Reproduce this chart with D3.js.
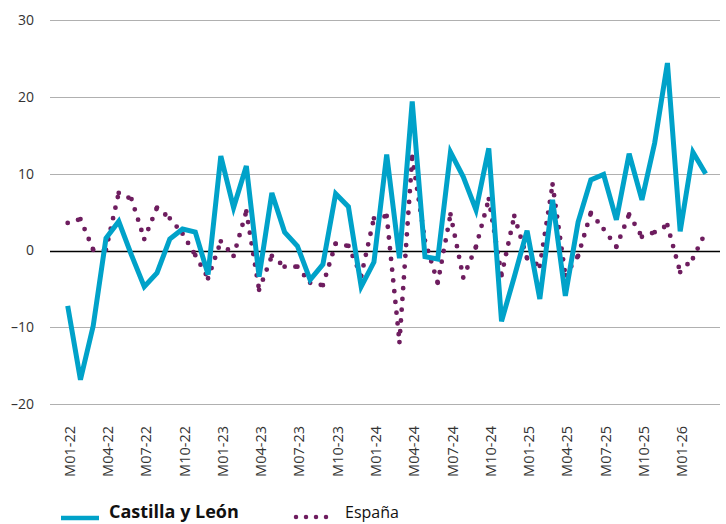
<!DOCTYPE html>
<html>
<head>
<meta charset="utf-8">
<script src="https://cdn.jsdelivr.net/npm/d3@7"></script>
<style>
  body { margin: 0; background: #fff; }
  text { font-family: "Open Sans", "Noto Sans", sans-serif; fill: #333; }
</style>
</head>
<body>
<svg id="chart" width="726" height="524"></svg>
<script>
// monthly categories, M01-22 .. M03-26
var months = ["M01-22","M02-22","M03-22","M04-22","M05-22","M06-22","M07-22","M08-22","M09-22","M10-22","M11-22","M12-22",
  "M01-23","M02-23","M03-23","M04-23","M05-23","M06-23","M07-23","M08-23","M09-23","M10-23","M11-23","M12-23",
  "M01-24","M02-24","M03-24","M04-24","M05-24","M06-24","M07-24","M08-24","M09-24","M10-24","M11-24","M12-24",
  "M01-25","M02-25","M03-25","M04-25","M05-25","M06-25","M07-25","M08-25","M09-25","M10-25","M11-25","M12-25",
  "M01-26","M02-26","M03-26"];

var castilla = [-7.2,-16.8,-9.8,1.6,3.8,-0.6,-4.7,-2.9,1.5,2.8,2.4,-3.1,
  12.3,5.6,11.0,-3.4,7.5,2.4,0.6,-3.8,-1.8,7.4,5.7,-4.7,
  -1.5,12.5,-1.0,19.4,-0.8,-1.1,12.8,9.6,5.3,13.3,-9.2,-3.4,
  2.6,-6.3,6.6,-5.9,3.7,9.2,9.9,4.0,12.6,6.6,14.0,24.4,
  2.5,12.8,10.0];

var espana = [3.6,4.1,0.1,0.1,7.5,6.7,1.5,5.6,4.2,2.2,-0.6,-3.6,
  1.2,-0.7,5.1,-5.1,-0.7,-2.1,-2.1,-4.2,-4.5,0.9,0.6,-3.3,
  4.2,4.5,-11.9,12.2,1.3,-4.2,4.7,-3.5,0.5,6.7,-3.2,4.5,
  -1.0,-2.0,8.6,-3.2,-0.7,4.9,2.8,0.5,4.7,1.8,2.4,3.3,
  -2.8,-1.0,2.4];

var yTicks = [-20, -10, 0, 10, 20, 30];
var xTickIdx = [0,3,6,9,12,15,18,21,24,27,30,33,36,39,42,45,48];

var svg = d3.select("#chart");

var x = d3.scaleLinear().domain([0, months.length - 1]).range([67.7, 705.7]);
var y = d3.scaleLinear().domain([-20, 30]).range([404.3, 20]);
var gridLeft = 50, gridRight = 720;

// gridlines
svg.append("g").selectAll("line")
  .data(yTicks)
  .join("line")
    .attr("x1", gridLeft).attr("x2", gridRight)
    .attr("y1", function(d) { return Math.round(y(d)) + 0.5; })
    .attr("y2", function(d) { return Math.round(y(d)) + 0.5; })
    .attr("stroke", function(d) { return d === 0 ? "#000" : "#b0b0b0"; })
    .attr("stroke-width", function(d) { return d === 0 ? 1.3 : 1.2; });

// y labels
svg.append("g").selectAll("text")
  .data(yTicks)
  .join("text")
    .attr("x", 34)
    .attr("y", function(d) { return y(d); })
    .attr("dy", "0.35em")
    .attr("text-anchor", "end")
    .style("font-size", "14px")
    .text(function(d) { return d < 0 ? "\u2013" + Math.abs(d) : d; });

// x labels
svg.append("g").selectAll("text")
  .data(xTickIdx)
  .join("text")
    .attr("transform", function(i) { return "translate(" + (x(i) + 2) + ",426) rotate(-90)"; })
    .attr("dy", "0.35em")
    .attr("text-anchor", "end")
    .style("font-size", "14.5px")
    .text(function(i) { return months[i]; });

var line = d3.line()
  .x(function(d) { return x(d.i); })
  .y(function(d) { return y(d.v); });

// España, dotted; dash pattern restarts at each point like the source chart
var espPts = espana.map(function(v, i) { return {i: i, v: v}; });
var espSegs = d3.pairs(espPts);
svg.append("g").selectAll("path")
  .data(espSegs)
  .join("path")
    .attr("d", line)
    .attr("fill", "none")
    .attr("stroke", "#6e1d5f")
    .attr("stroke-width", 4.8)
    .attr("stroke-linecap", "round")
    .attr("stroke-dasharray", "0,10.8");

// Castilla y León
svg.append("path")
  .datum(castilla.map(function(v, i) { return {i: i, v: v}; }))
  .attr("d", line)
  .attr("fill", "none")
  .attr("stroke", "#00a2c9")
  .attr("stroke-width", 5)
  .attr("stroke-linejoin", "miter");

// legend
var lg = svg.append("g");
lg.append("line")
  .attr("x1", 61).attr("x2", 99).attr("y1", 518).attr("y2", 518)
  .attr("stroke", "#00a2c9").attr("stroke-width", 4.5);
lg.append("text")
  .attr("x", 109).attr("y", 518)
  .style("font-size", "18px").style("font-weight", "bold")
  .style("fill", "#111")
  .text("Castilla y León");
lg.append("line")
  .attr("x1", 296).attr("x2", 336).attr("y1", 517).attr("y2", 517)
  .attr("stroke", "#6e1d5f").attr("stroke-width", 4.5)
  .attr("stroke-linecap", "round").attr("stroke-dasharray", "0,10");
lg.append("text")
  .attr("x", 345).attr("y", 518)
  .style("font-size", "16px")
  .style("fill", "#111")
  .text("España");
</script>
</body>
</html>
